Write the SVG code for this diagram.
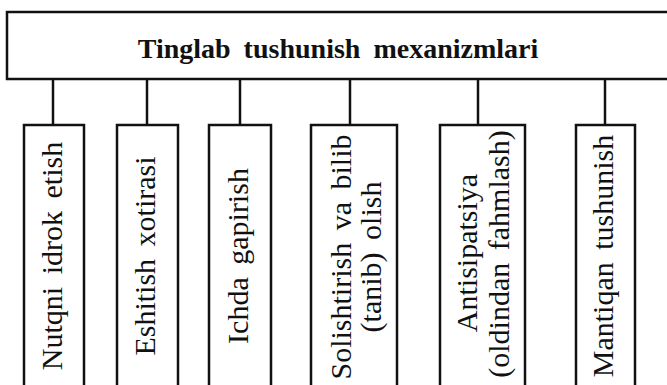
<svg xmlns="http://www.w3.org/2000/svg" width="667" height="385" viewBox="0 0 667 385">
<style>
.box{fill:#fff;stroke:#111;stroke-width:2.5}
.con{stroke:#111;stroke-width:2.5;fill:none}
.title{font-family:"Liberation Serif",serif;font-weight:bold;font-size:28px;word-spacing:6px;fill:#111;text-anchor:middle}
.lbl{font-family:"Liberation Serif",serif;font-size:30px;word-spacing:5px;fill:#111;text-anchor:middle}
</style>
<rect width="667" height="385" fill="#fff"/>
<g id="connectors">
<line class="con" x1="53" y1="79" x2="53" y2="125"/>
<line class="con" x1="147" y1="79" x2="147" y2="125"/>
<line class="con" x1="240" y1="79" x2="240" y2="125"/>
<line class="con" x1="350" y1="79" x2="350" y2="125"/>
<line class="con" x1="478" y1="79" x2="478" y2="125"/>
<line class="con" x1="605" y1="79" x2="605" y2="125"/>
</g>
<g id="root">
<rect class="box" x="7" y="12" width="670" height="67"/>
<text class="title" x="338" y="58">Tinglab tushunish mexanizmlari</text>
</g>
<g id="n1">
<rect class="box" x="24" y="125" width="60" height="270"/>
<text class="lbl" transform="translate(62,256) rotate(-90)">Nutqni idrok etish</text>
</g>
<g id="n2">
<rect class="box" x="117" y="125" width="61" height="270"/>
<text class="lbl" transform="translate(155,256) rotate(-90)">Eshitish xotirasi</text>
</g>
<g id="n3">
<rect class="box" x="209" y="125" width="62" height="270"/>
<text class="lbl" transform="translate(248,256) rotate(-90)">Ichda gapirish</text>
</g>
<g id="n4">
<rect class="box" x="311" y="125" width="86" height="270"/>
<text class="lbl" transform="translate(351,257) rotate(-90)">Solishtirish va bilib</text>
<text class="lbl" transform="translate(381,257) rotate(-90)">(tanib) olish</text>
</g>
<g id="n5">
<rect class="box" x="440" y="125" width="85" height="270"/>
<text class="lbl" transform="translate(477,253) rotate(-90)">Antisipatsiya</text>
<text class="lbl" transform="translate(509,254) rotate(-90)">(oldindan fahmlash)</text>
</g>
<g id="n6">
<rect class="box" x="576" y="125" width="59" height="270"/>
<text class="lbl" transform="translate(613,256) rotate(-90)">Mantiqan tushunish</text>
</g>
</svg>
